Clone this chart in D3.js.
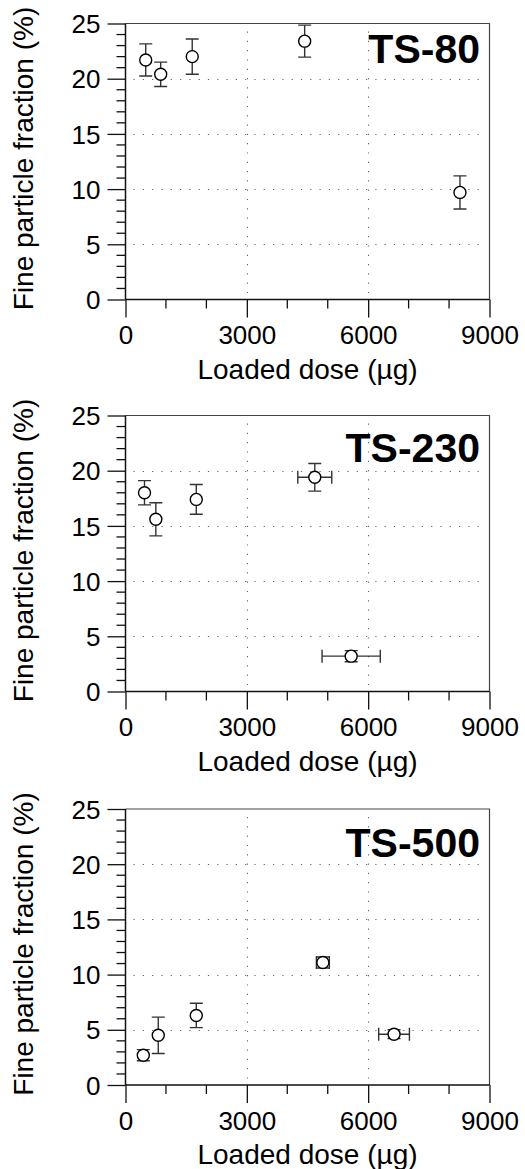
<!DOCTYPE html>
<html><head><meta charset="utf-8">
<script src="https://cdn.jsdelivr.net/npm/d3@7"></script>
<style>body{margin:0;background:#fff}svg{display:block}</style>
</head><body><svg id="c" width="525" height="1169"></svg>
<script>
// ---- data ----
const panelNames = ["TS-80", "TS-230", "TS-500"];
const dose80 = [500, 870, 1650, 4430, 8270];
const frac80 = [21.7, 20.4, 22.0, 23.4, 9.7];
const fracErr80 = [1.45, 1.1, 1.6, 1.45, 1.5];
const doseErr80 = [0, 0, 0, 0, 0];
const dose230 = [470, 750, 1750, 4680, 5580];
const frac230 = [18.0, 15.6, 17.4, 19.4, 3.2];
const fracErr230 = [1.1, 1.5, 1.35, 1.25, 0.5];
const doseErr230 = [0, 0, 0, 420, 720];
const dose500 = [440, 810, 1750, 4880, 6640];
const frac500 = [2.7, 4.5, 6.3, 11.1, 4.6];
const fracErr500 = [0.5, 1.65, 1.1, 0.5, 0.4];
const doseErr500 = [0, 0, 0, 160, 380];
const xTicks = [0, 3000, 6000, 9000];
const xMinorTicks = [1000, 2000, 4000, 5000, 7000, 8000];
const yTicks = [0, 5, 10, 15, 20, 25];
const xGrid = [3000, 6000];
const yGrid = [5, 10, 15, 20];
const xTitle = "Loaded dose (µg)";
const yTitle = "Fine particle fraction (%)";

const series = [
  {name: panelNames[0], x: dose80, y: frac80, ey: fracErr80, ex: doseErr80},
  {name: panelNames[1], x: dose230, y: frac230, ey: fracErr230, ex: doseErr230},
  {name: panelNames[2], x: dose500, y: frac500, ey: fracErr500, ex: doseErr500}
];

// ---- layout ----
const X0 = 125.5, X1 = 489.5, H = 276;
const tops = [23.5, 415.5, 809];
const labelDy = [39.5, 46.5, 47.5];
const FONT = "'Liberation Sans', Arial, Helvetica, sans-serif";
const svg = d3.select("#c");

const yMinor = d3.range(0, 26).filter(v => v % 5 !== 0);

series.forEach((s, i) => {
  const top = tops[i], bot = top + H;
  const x = d3.scaleLinear().domain([0, 9000]).range([X0, X1]);
  const y = d3.scaleLinear().domain([0, 25]).range([bot, top]);
  const g = svg.append("g");

  // grid (dotted)
  g.selectAll(".hg").data(yGrid).join("line")
    .attr("x1", X0 + 8).attr("x2", X1 - 7)
    .attr("y1", d => Math.round(y(d)) + 0.5).attr("y2", d => Math.round(y(d)) + 0.5)
    .attr("stroke", "#666").attr("stroke-width", 1.1).attr("stroke-dasharray", "1.2,8.1");
  g.selectAll(".vg").data(xGrid).join("line")
    .attr("y1", top + 8).attr("y2", bot - 6)
    .attr("x1", d => Math.round(x(d)) + 0.5).attr("x2", d => Math.round(x(d)) + 0.5)
    .attr("stroke", "#666").attr("stroke-width", 1.1).attr("stroke-dasharray", "1.2,8.1");

  // frame top & right
  g.append("path").attr("d", `M${X0},${top}H${X1}V${bot}`)
    .attr("fill", "none").attr("stroke", "#444").attr("stroke-width", 1.2);

  // y axis
  const ya = g.append("g").attr("transform", `translate(${X0},0)`)
    .call(d3.axisLeft(y).tickValues(yTicks).tickSize(18).tickPadding(7).tickFormat(d3.format("d")));
  ya.append("g").selectAll("line").data(yMinor).join("line")
    .attr("x1", -9).attr("x2", 0).attr("y1", d => y(d)).attr("y2", d => y(d))
    .attr("stroke", "#111").attr("stroke-width", 1.3);
  // x axis
  const xa = g.append("g").attr("transform", `translate(0,${bot})`)
    .call(d3.axisBottom(x).tickValues(xTicks).tickSize(18).tickPadding(7).tickFormat(d3.format("d")));
  xa.append("g").selectAll("line").data(xMinorTicks).join("line")
    .attr("x1", d => x(d)).attr("x2", d => x(d)).attr("y1", 0).attr("y2", 9)
    .attr("stroke", "#111").attr("stroke-width", 1.3);

  [ya, xa].forEach(a => {
    a.select(".domain").remove();
    a.selectAll(".tick line").attr("stroke", "#111").attr("stroke-width", 1.3);
    a.selectAll("text").attr("font-family", FONT).attr("font-size", 26).attr("fill", "#000");
  });
  ya.selectAll(".tick text").attr("dy", "0.35em");
  xa.selectAll(".tick text").attr("dy", "0.75em");
  // axis lines
  g.append("line").attr("x1", X0).attr("x2", X0).attr("y1", top).attr("y2", bot)
    .attr("stroke", "#111").attr("stroke-width", 1.5);
  g.append("line").attr("x1", X0).attr("x2", X1).attr("y1", bot).attr("y2", bot)
    .attr("stroke", "#111").attr("stroke-width", 1.5);

  // titles
  g.append("text").attr("x", (X0 + X1) / 2).attr("y", bot + 79)
    .attr("text-anchor", "middle").attr("font-family", FONT).attr("font-size", 28)
    .text(xTitle);
  g.append("text").attr("transform", `translate(33,${(top + bot) / 2 - 3}) rotate(-90)`)
    .attr("text-anchor", "middle").attr("font-family", FONT).attr("font-size", 28)
    .text(yTitle);

  // panel label
  g.append("text").attr("x", 480).attr("y", top + labelDy[i])
    .attr("text-anchor", "end").attr("font-family", FONT).attr("font-size", 41)
    .attr("font-weight", "bold").text(s.name);

  // data
  const pts = s.x.map((v, k) => ({x: v, y: s.y[k], ey: s.ey[k], ex: s.ex[k]}));
  const eg = g.append("g").attr("stroke", "#333").attr("stroke-width", 1.4).attr("fill", "none");
  const cap = 6.5;
  pts.forEach(p => {
    const cx = x(p.x), cy = y(p.y);
    if (p.ey > 0) {
      const y1 = y(p.y + p.ey), y2 = y(p.y - p.ey);
      eg.append("path").attr("d", `M${cx},${y1}V${y2}M${cx - cap},${y1}H${cx + cap}M${cx - cap},${y2}H${cx + cap}`);
    }
    if (p.ex > 0) {
      const x1 = x(p.x - p.ex), x2 = x(p.x + p.ex);
      eg.append("path").attr("d", `M${x1},${cy}H${x2}M${x1},${cy - cap}V${cy + cap}M${x2},${cy - cap}V${cy + cap}`);
    }
  });
  g.append("g").selectAll("circle").data(pts).join("circle")
    .attr("cx", d => x(d.x)).attr("cy", d => y(d.y)).attr("r", 6)
    .attr("fill", "#fff").attr("stroke", "#000").attr("stroke-width", 1.4);
});
</script>
</body></html>
